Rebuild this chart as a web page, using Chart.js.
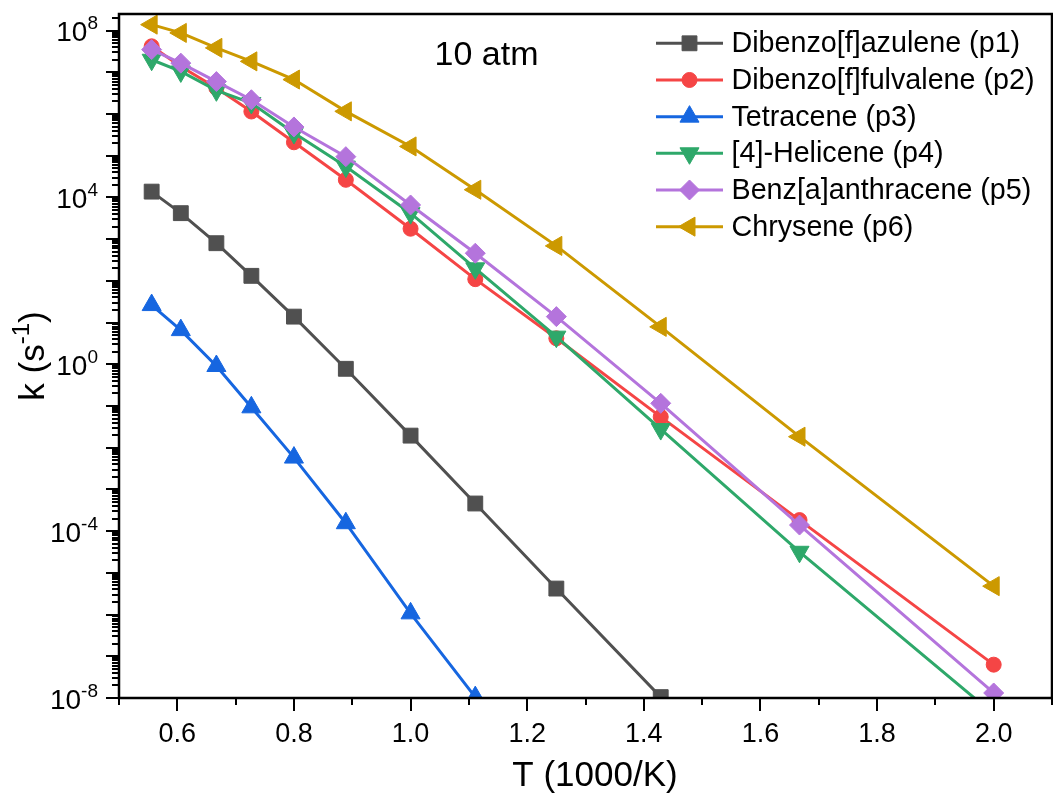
<!DOCTYPE html>
<html><head><meta charset="utf-8">
<script src="https://cdn.jsdelivr.net/npm/chart.js@4.4.1/dist/chart.umd.min.js"></script>
<style>html,body{margin:0;padding:0;background:#fff;overflow:hidden;width:1053px;height:797px;} canvas{display:block;}</style>
</head><body><canvas id="c" width="1053" height="797" style="width:1053px;height:797px;"></canvas>
<script>
// ---- data (x = 1000/T, y = k in s^-1) ----
const invT = [0.556, 0.606, 0.667, 0.727, 0.800, 0.889, 1.000, 1.111, 1.250, 1.429, 1.667, 2.000];
const p1 = [1.38e4, 4.2e3, 8.0e2, 1.32e2, 1.39e1, 7.8e-1, 1.95e-2, 4.6e-4, 4.2e-6, 1.05e-8];
const p2 = [4.2e7, 1.38e7, 4.2e6, 1.15e6, 2.1e5, 2.65e4, 1.78e3, 1.1e2, 4.2, 5.5e-2, 1.84e-4, 6.3e-8];
const p3 = [26.3, 6.6, 0.91, 9.3e-2, 5.8e-3, 1.55e-4, 1.07e-6, 1.05e-8];
const p4 = [2.0e7, 1.05e7, 3.7e6, 1.84e6, 3.5e5, 5.5e4, 4.2e3, 2.0e2, 4.6, 2.8e-2, 3.2e-5, 4.1e-9];
const p5 = [3.5e7, 1.66e7, 6.0e6, 2.2e6, 4.9e5, 9.5e4, 6.6e3, 4.6e2, 13.9, 0.116, 1.4e-4, 1.32e-8];
const p6 = [1.39e8, 8.8e7, 3.85e7, 1.83e7, 6.7e6, 1.16e6, 1.67e5, 1.53e4, 6.9e2, 7.9, 1.84e-2, 4.8e-6];
const seriesNames = ['Dibenzo[f]azulene (p1)', 'Dibenzo[f]fulvalene (p2)', 'Tetracene (p3)', '[4]-Helicene (p4)', 'Benz[a]anthracene (p5)', 'Chrysene (p6)'];
const seriesValues = [p1, p2, p3, p4, p5, p6];
const xTickValues = [0.5, 0.6, 0.7, 0.8, 0.9, 1.0, 1.1, 1.2, 1.3, 1.4, 1.5, 1.6, 1.7, 1.8, 1.9, 2.0, 2.1];
const xTickLabels = ['', '0.6', '', '0.8', '', '1.0', '', '1.2', '', '1.4', '', '1.6', '', '1.8', '', '2.0', ''];
const yLabelExponents = [8, 4, 0, -4, -8];
const annotation = '10 atm';
const xTitle = 'T (1000/K)';
const yTitleParts = ['k (s', '-1', ')'];

// ---- styles ----
const FONT = '"Liberation Sans", Arial, sans-serif';
const colors = ['#505050', '#F54545', '#1666E0', '#2EA86A', '#B474DC', '#CC9900'];
const styles = [
  {pointStyle: 'rect', rotation: 0, radius: 10.5},
  {pointStyle: 'circle', rotation: 0, radius: 7.5},
  {pointStyle: 'triangle', rotation: 0, radius: 11},
  {pointStyle: 'triangle', rotation: 180, radius: 11},
  {pointStyle: 'rectRot', rotation: 0, radius: 10},
  {pointStyle: 'triangle', rotation: 270, radius: 11}
];

const datasets = seriesValues.map((vals, i) => ({
  label: seriesNames[i],
  data: vals.map((v, j) => ({x: invT[j], y: v})),
  showLine: true,
  borderColor: colors[i],
  backgroundColor: colors[i],
  borderWidth: 3,
  pointStyle: styles[i].pointStyle,
  rotation: styles[i].rotation,
  pointRadius: styles[i].radius,
  pointHoverRadius: styles[i].radius,
  pointBorderWidth: 1,
  tension: 0,
  order: 6 - i
}));

// text with a superscript part: draws base then raised smaller exponent
function drawSupText(ctx, parts, x, y, size, align) {
  const big = size + 'px ' + FONT, small = Math.round(size * 0.68) + 'px ' + FONT;
  ctx.font = big; const w0 = ctx.measureText(parts[0]).width;
  ctx.font = small; const w1 = ctx.measureText(parts[1]).width;
  ctx.font = big; const w2 = parts[2] ? ctx.measureText(parts[2]).width : 0;
  const total = w0 + w1 + w2;
  let sx = align === 'right' ? x - total : align === 'center' ? x - total / 2 : x;
  ctx.textAlign = 'left';
  ctx.textBaseline = 'alphabetic';
  ctx.font = big; ctx.fillText(parts[0], sx, y);
  ctx.font = small; ctx.fillText(parts[1], sx + w0, y - size * 0.42);
  if (parts[2]) { ctx.font = big; ctx.fillText(parts[2], sx + w0 + w1, y); }
}

const framePlugin = {
  id: 'frame',
  afterDraw(chart) {
    const ctx = chart.ctx, a = chart.chartArea, xs = chart.scales.x, ys = chart.scales.y;
    ctx.save();
    ctx.strokeStyle = '#000';
    ctx.lineWidth = 2;
    ctx.lineCap = 'butt';
    // x ticks
    xTickValues.forEach((v, i) => {
      const px = Math.round(xs.getPixelForValue(v));
      const len = xTickLabels[i] ? 13 : 7;
      ctx.beginPath(); ctx.moveTo(px, a.bottom); ctx.lineTo(px, a.bottom + len); ctx.stroke();
    });
    // y ticks (decades + minor)
    for (let e = -8; e <= 8; e++) {
      for (let m = 1; m <= 9; m++) {
        const v = m * Math.pow(10, e);
        if (v > ys.max) break;
        const py = Math.round(ys.getPixelForValue(v));
        const len = m === 1 ? 13 : 7;
        ctx.beginPath(); ctx.moveTo(a.left, py); ctx.lineTo(a.left - len, py); ctx.stroke();
      }
    }
    // frame
    ctx.lineWidth = 2.5;
    ctx.strokeRect(a.left, a.top, a.right - a.left, a.bottom - a.top);

    ctx.fillStyle = '#000';
    // y tick labels 10^n
    yLabelExponents.forEach(e => {
      const py = ys.getPixelForValue(Math.pow(10, e));
      drawSupText(ctx, ['10', String(e), ''], 98, py + 10.5, 28, 'right');
    });
    // y title
    ctx.save();
    ctx.translate(44, 356);
    ctx.rotate(-Math.PI / 2);
    drawSupText(ctx, yTitleParts, 0, 0, 35, 'center');
    ctx.restore();

    // x title
    ctx.font = '35px ' + FONT;
    ctx.textAlign = 'center';
    ctx.textBaseline = 'middle';
    ctx.fillText(xTitle, 595, 776);

    // annotation
    ctx.font = '34px ' + FONT;
    ctx.textAlign = 'center';
    ctx.textBaseline = 'alphabetic';
    ctx.fillText(annotation, 486.5, 65);

    // legend
    ctx.font = '28.7px ' + FONT;
    ctx.textAlign = 'left';
    ctx.textBaseline = 'middle';
    seriesNames.forEach((name, i) => {
      const y = 43.3 + i * 36.67;
      ctx.strokeStyle = colors[i];
      ctx.lineWidth = 3;
      ctx.beginPath(); ctx.moveTo(656, y); ctx.lineTo(723, y); ctx.stroke();
      ctx.fillStyle = colors[i];
      ctx.lineWidth = 1;
      Chart.helpers.drawPoint(ctx, {pointStyle: styles[i].pointStyle, rotation: styles[i].rotation, radius: styles[i].radius, borderWidth: 1}, 689.5, y);
      ctx.fillStyle = '#000';
      ctx.fillText(name, 731.5, y + 1);
    });
    ctx.restore();
  }
};

new Chart(document.getElementById('c'), {
  type: 'scatter',
  data: {datasets},
  options: {
    responsive: false,
    animation: false,
    events: [],
    devicePixelRatio: 1,
    layout: {autoPadding: false, padding: {left: 0, right: 1, top: 14, bottom: 0}},
    plugins: {legend: {display: false}, tooltip: {enabled: false}},
    scales: {
      x: {
        type: 'linear', min: 0.5, max: 2.1,
        afterFit: s => { s.height = 99; s.paddingLeft = 0; s.paddingRight = 0; },
        afterBuildTicks: s => { s.ticks = xTickValues.map(v => ({value: v})); },
        grid: {display: true, drawOnChartArea: false, drawTicks: true, tickLength: 20, tickColor: 'rgba(0,0,0,0)'},
        border: {display: false},
        ticks: {
          autoSkip: false, maxRotation: 0, padding: 0, color: '#000',
          font: {family: FONT, size: 27},
          callback: (v, i) => xTickLabels[i]
        },
        title: {display: false}
      },
      y: {
        type: 'logarithmic', min: 1e-8, max: 2.5e8,
        afterFit: s => { s.width = 119; s.paddingTop = 0; s.paddingBottom = 0; },
        afterBuildTicks: s => { s.ticks = yLabelExponents.map(e => ({value: Math.pow(10, e)})); },
        grid: {display: false},
        border: {display: false},
        ticks: {display: false},
        title: {display: false}
      }
    }
  },
  plugins: [framePlugin]
});
</script></body></html>
